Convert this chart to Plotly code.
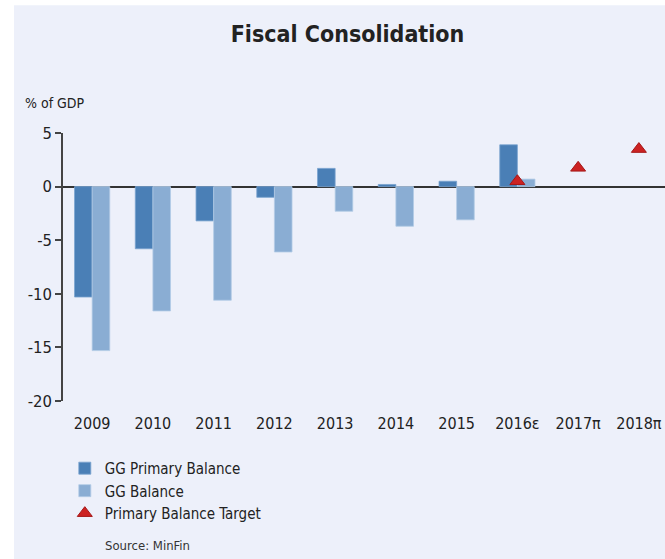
import plotly.graph_objects as go

# Data (% of GDP)
years = ["2009", "2010", "2011", "2012", "2013", "2014", "2015", "2016ε", "2017π", "2018π"]
gg_primary_balance = [-10.3, -5.8, -3.2, -1.0, 1.7, 0.2, 0.5, 3.9, None, None]
gg_balance = [-15.3, -11.6, -10.6, -6.1, -2.3, -3.7, -3.1, 0.7, None, None]
primary_target = [None, None, None, None, None, None, None, 0.5, 1.75, 3.5]
y_tick_values = [5, 0, -5, -10, -15, -20]
y_tick_labels = ["5", "0", "-5", "-10", "-15", "-20"]

FONT = "Liberation Sans Narrow, DejaVu Sans Condensed, Roboto Condensed, Roboto, sans-serif"
PANEL = "#edf0fa"
TEXT = "#222222"

fig = go.Figure()
fig.add_trace(go.Bar(
    x=years, y=gg_primary_balance, name="GG Primary Balance",
    marker=dict(color="#4a7fb6", line=dict(color="#7aa3cf", width=0.8)),
))
fig.add_trace(go.Bar(
    x=years, y=gg_balance, name="GG Balance",
    marker=dict(color="#8aadd3", line=dict(color="#b3cbe6", width=0.8)),
))
fig.add_trace(go.Scatter(
    x=years, y=primary_target, name="Primary Balance Target", mode="markers",
    marker=dict(symbol="triangle-up", size=13, color="#cc2222",
                line=dict(color="#a51818", width=1)),
))

fig.update_layout(
    width=665, height=559,
    margin=dict(l=63, r=0, t=133, b=158),
    paper_bgcolor="white",
    plot_bgcolor=PANEL,
    font=dict(family=FONT, color=TEXT),
    barmode="group", bargap=0.42, bargroupgap=0,
    showlegend=True,
    legend=dict(
        x=0.003, y=-0.19, xanchor="left", yanchor="top",
        bgcolor="rgba(0,0,0,0)", font=dict(size=15, color=TEXT),
        itemwidth=30, traceorder="normal",
    ),
    title=dict(
        text="<b>Fiscal Consolidation</b>", x=0.4726, xref="paper", xanchor="center",
        y=1 - 33.7 / 559, yref="container", yanchor="middle",
        font=dict(size=23, color=TEXT, family=FONT),
    ),
    xaxis=dict(
        type="category", range=[-0.48, 9.43], showgrid=False, showline=False,
        ticks="", ticklabelstandoff=11, tickfont=dict(size=16, color=TEXT),
        fixedrange=True,
    ),
    yaxis=dict(
        range=[-20, 5], tickvals=y_tick_values, ticktext=y_tick_labels, showgrid=False,
        showline=True, linecolor="#444444", linewidth=1.5,
        ticks="outside", ticklen=6, tickcolor="#444444", tickwidth=1.5,
        tickfont=dict(size=16.5, color=TEXT),
        zeroline=True, zerolinecolor="#333333", zerolinewidth=1.5,
        fixedrange=True,
    ),
    shapes=[dict(
        type="rect", xref="paper", yref="paper", layer="below",
        x0=-0.0814, x1=1.02, y0=-0.7, y1=1.4765,
        fillcolor=PANEL, line=dict(width=0),
    )],
    annotations=[
        dict(text="% of GDP", xref="paper", yref="paper", x=-0.0664, y=1.111,
             xanchor="left", yanchor="middle", showarrow=False,
             font=dict(size=14, color=TEXT)),
        dict(text="Source: MinFin", xref="paper", yref="paper", x=0.0665, y=-0.538,
             xanchor="left", yanchor="middle", showarrow=False,
             font=dict(size=13, color="#333333")),
    ],
)

fig.write_html("out.html")
